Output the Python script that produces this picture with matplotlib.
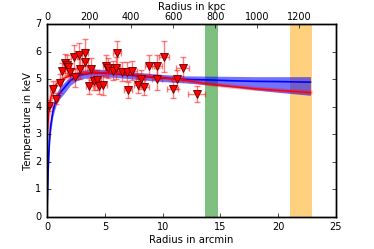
import numpy as np
import matplotlib
matplotlib.use('Agg')
import matplotlib.pyplot as plt

plt.style.use('classic')

# data points (arcmin, keV)
r = [0.2, 0.49, 0.78, 1.12, 1.33, 1.56, 1.75, 1.85, 1.99, 2.34, 2.45, 2.8, 2.85,
     3.26, 3.26, 3.66, 3.78, 4.09, 4.35, 4.47, 4.87, 5.1, 5.3, 5.74, 6.08, 5.97,
     6.51, 6.95, 7.0, 7.38, 7.9, 8.1, 8.39, 8.85, 9.49, 9.49, 10.1, 10.87, 11.27,
     11.74, 12.95]
T = [4.04, 4.64, 4.3, 4.86, 5.31, 5.59, 5.52, 5.44, 5.28, 5.81, 5.08, 5.89, 5.38,
     5.97, 5.64, 4.76, 5.39, 4.95, 4.98, 4.76, 4.8, 5.47, 5.41, 5.31, 5.95, 5.42,
     5.28, 5.28, 4.62, 5.32, 4.8, 5.0, 4.72, 5.47, 5.0, 5.5, 5.83, 4.64, 5.0,
     5.41, 4.47]
T_err = [0.2, 0.3, 0.2, 0.35, 0.3, 0.35, 0.35, 0.3, 0.3, 0.45, 0.35, 0.45, 0.35,
         0.5, 0.45, 0.3, 0.4, 0.35, 0.35, 0.3, 0.35, 0.4, 0.35, 0.35, 0.45, 0.4,
         0.35, 0.35, 0.3, 0.35, 0.3, 0.35, 0.3, 0.4, 0.4, 0.4, 0.55, 0.3, 0.35,
         0.4, 0.3]
r_err = [0.2, 0.2, 0.2, 0.2, 0.2, 0.2, 0.2, 0.2, 0.2, 0.25, 0.25, 0.25, 0.25,
         0.25, 0.25, 0.3, 0.3, 0.3, 0.3, 0.3, 0.3, 0.3, 0.3, 0.35, 0.35, 0.35,
         0.35, 0.35, 0.35, 0.4, 0.4, 0.4, 0.4, 0.4, 0.45, 0.45, 0.45, 0.5, 0.5,
         0.55, 0.75]

# model curves
red_r = [0, 0.05, 0.15, 0.3, 0.5, 0.75, 1.0, 1.5, 2, 2.5, 3, 4, 5, 6, 8, 10,
         12, 14, 16, 18, 20, 22.8]
red_T = [3.0, 3.3, 3.8, 4.3, 4.6, 4.8, 4.93, 5.05, 5.13, 5.19, 5.22, 5.24, 5.24,
         5.22, 5.15, 5.06, 4.96, 4.83, 4.74, 4.66, 4.6, 4.52]

blue_r = [0, 0.03, 0.1, 0.2, 0.3, 0.5, 0.8, 1.0, 1.5, 2, 2.5, 3, 4, 5, 6, 8, 10,
          12, 14, 16, 18, 20, 22.8]
blue_T = [0.3, 0.9, 1.9, 2.8, 3.3, 3.85, 4.3, 4.45, 4.7, 4.95, 5.1, 5.17, 5.24,
          5.23, 5.2, 5.12, 5.05, 5.0, 4.98, 4.95, 4.93, 4.92, 4.9]
blue_hi = [0.6, 1.3, 2.3, 3.1, 3.55, 4.05, 4.5, 4.65, 4.9, 5.12, 5.26, 5.33, 5.38,
           5.36, 5.33, 5.25, 5.18, 5.13, 5.12, 5.11, 5.1, 5.1, 5.1]
blue_lo = [0.0, 0.5, 1.5, 2.5, 3.05, 3.65, 4.1, 4.25, 4.5, 4.78, 4.94, 5.02, 5.1,
           5.09, 5.07, 4.99, 4.92, 4.87, 4.8, 4.72, 4.62, 4.53, 4.42]

green_band = [13.7, 14.8]
orange_band = [21.0, 22.9]
kpc_per_arcmin = 55.0

fig = plt.figure(figsize=(3.74, 2.49), dpi=100, facecolor='white')
ax = fig.add_axes([0.126, 0.129, 0.772, 0.773])

ax.axvspan(green_band[0], green_band[1], color='green', alpha=0.5, lw=0)
ax.axvspan(orange_band[0], orange_band[1], color='orange', alpha=0.5, lw=0)

ax.fill_between(blue_r, blue_lo, blue_hi, color='blue', alpha=0.55, lw=0)
ax.plot(blue_r, blue_T, color='blue', lw=1.2)
ax.plot(red_r, red_T, color='red', lw=3, alpha=0.3)
ax.plot(red_r, red_T, color='red', lw=1.0)

ax.errorbar(r, T, yerr=T_err, xerr=r_err, fmt='none', ecolor='red', alpha=0.5,
            elinewidth=1, capsize=2, capthick=1)
ax.plot(r, T, 'v', color='red', mec='#600000', mew=0.6, ms=5.5)

ax.set_xlim(0, 25)
ax.set_ylim(0, 7)
ax.tick_params(labelsize=7, length=3, direction='in')
ax.set_xlabel('Radius in arcmin', fontsize=7.3, labelpad=2)
ax.set_ylabel('Temperature in keV', fontsize=7.3, labelpad=2)

ax2 = ax.twiny()
ax2.set_xlim(0, 25 * kpc_per_arcmin)
ax2.set_xticks([0, 200, 400, 600, 800, 1000, 1200])
ax2.tick_params(labelsize=7, length=3, direction='in', pad=2)
ax2.set_xlabel('Radius in kpc', fontsize=7.3, labelpad=1)

fig.savefig('out.png', dpi=100, facecolor='white')
